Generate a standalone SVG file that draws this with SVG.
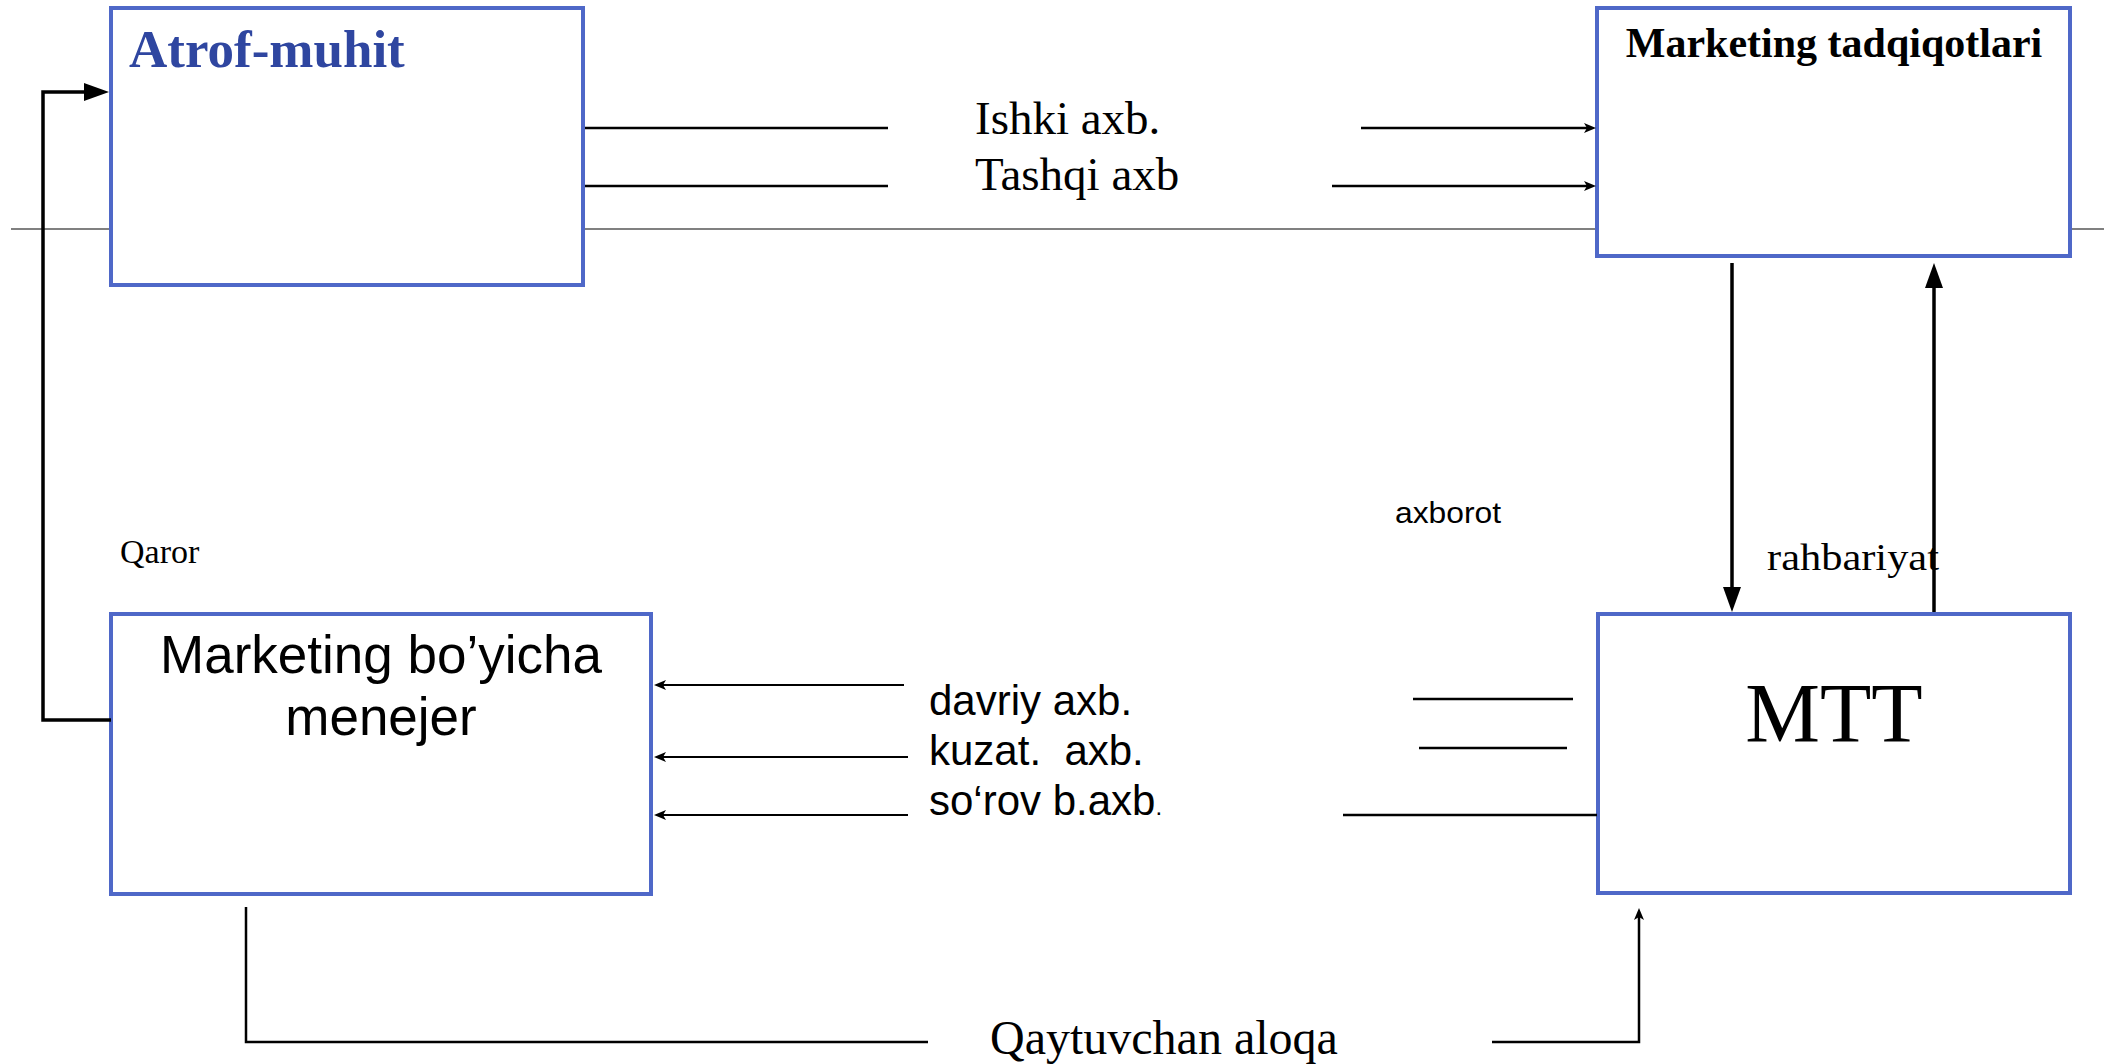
<svg xmlns="http://www.w3.org/2000/svg" width="2113" height="1064" viewBox="0 0 2113 1064">
  <style>
    .box { fill: #ffffff; stroke: #4F68C8; stroke-width: 4; }
    .serif { font-family: "Liberation Serif", "Times New Roman", serif; fill: #000000; }
    .sans { font-family: "Liberation Sans", Arial, sans-serif; fill: #000000; }
    .thick { fill: none; stroke: #000000; stroke-width: 3.5; }
    .thin { fill: none; stroke: #000000; stroke-width: 2.5; }
    .hair { fill: none; stroke: #000000; stroke-width: 2; }
    .divider { stroke: #808080; stroke-width: 2; }
  </style>
  <defs>
    <marker id="bigArrow" markerUnits="userSpaceOnUse" markerWidth="26" markerHeight="20" refX="3" refY="9" orient="auto">
      <path d="M0,0 L25,9 L0,18 z" fill="#000000"/>
    </marker>
    <marker id="smallArrow" markerUnits="userSpaceOnUse" markerWidth="13" markerHeight="11" refX="4" refY="5" orient="auto">
      <path d="M0,0 L12,5 L0,10 L3,5 z" fill="#000000"/>
    </marker>
  </defs>
  <rect width="2113" height="1064" fill="#ffffff"/>
  <line class="divider" x1="11" y1="229" x2="2104" y2="229"/>

  <g id="atrof-muhit">
    <rect class="box" x="111" y="8" width="472" height="277"/>
    <text x="129" y="67" font-family="Liberation Serif, Times New Roman, serif" font-weight="bold" font-size="53" fill="#2F46A0">Atrof-muhit</text>
  </g>

  <g id="marketing-tadqiqotlari">
    <rect class="box" x="1597" y="8" width="473" height="248"/>
    <text class="serif" x="1834" y="57" font-size="42" font-weight="bold" text-anchor="middle">Marketing tadqiqotlari</text>
  </g>

  <g id="marketing-menejer">
    <rect class="box" x="111" y="614" width="540" height="280"/>
    <text class="sans" x="381" y="673" font-size="53" text-anchor="middle">Marketing bo’yicha</text>
    <text class="sans" x="381" y="735" font-size="53" text-anchor="middle">menejer</text>
  </g>

  <g id="mtt">
    <rect class="box" x="1598" y="614" width="472" height="279"/>
    <text class="serif" x="1834" y="742" font-size="84" text-anchor="middle">MTT</text>
  </g>

  <g id="connectors">
    <path class="thick" d="M111,720 H43 V92 H87" marker-end="url(#bigArrow)"/>
    <path class="thin" d="M585,128 H888"/>
    <path class="thin" d="M585,186 H888"/>
    <path class="thin" d="M1361,128 H1588" marker-end="url(#smallArrow)"/>
    <path class="thin" d="M1332,186 H1588" marker-end="url(#smallArrow)"/>
    <path class="thick" d="M1732,263 V590" marker-end="url(#bigArrow)"/>
    <path class="thick" d="M1934,612 V285" marker-end="url(#bigArrow)"/>
    <path class="thin" d="M1413,699 H1573"/>
    <path class="thin" d="M1419,748 H1567"/>
    <path class="thin" d="M1343,815 H1597"/>
    <path class="hair" d="M904,685 H662" marker-end="url(#smallArrow)"/>
    <path class="hair" d="M908,757 H662" marker-end="url(#smallArrow)"/>
    <path class="hair" d="M908,815 H662" marker-end="url(#smallArrow)"/>
    <path class="thin" d="M246,907 V1042 H928"/>
    <path class="thin" d="M1492,1042 H1639 V916" marker-end="url(#smallArrow)"/>
  </g>

  <g id="labels">
    <text class="serif" x="975" y="134" font-size="47">Ishki axb.</text>
    <text class="serif" x="975" y="190" font-size="47">Tashqi axb</text>
    <text class="sans" x="1395" y="523" font-size="30" textLength="106" lengthAdjust="spacingAndGlyphs">axborot</text>
    <text class="serif" x="1767" y="570" font-size="37" textLength="172" lengthAdjust="spacingAndGlyphs">rahbariyat</text>
    <text class="serif" x="120" y="563" font-size="34">Qaror</text>
    <text class="sans" x="929" y="715" font-size="42">davriy axb.</text>
    <text class="sans" x="929" y="765" font-size="42" style="white-space:pre">kuzat.  axb.</text>
    <text class="sans" x="929" y="815" font-size="42">so‘rov b.axb<tspan font-size="24">.</tspan></text>
    <text class="serif" x="990" y="1054" font-size="48">Qaytuvchan aloqa</text>
  </g>
</svg>
